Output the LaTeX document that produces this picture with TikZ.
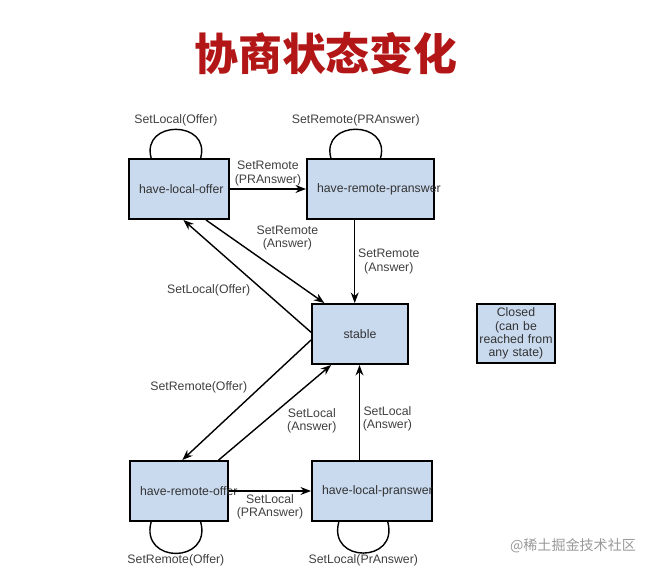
\documentclass[tikz,border=0pt]{standalone}
\usepackage{fontspec}
\setmainfont{Liberation Sans}
\newfontfamily\cjk{Noto Sans CJK SC}
\usepackage{tikz}
\usetikzlibrary{arrows.meta}
\definecolor{boxblue}{RGB}{201,218,239}
\definecolor{titlered}{RGB}{178,22,22}

\begin{document}
\begin{tikzpicture}[->, >={Stealth[length=6pt, width=4.5pt]}, x=0.02cm, y=0.02cm, line width=0.8pt, font=\fontsize{7}{7.5}\selectfont]
\tikzstyle{box}=[draw=black, line width=1.1pt, fill=boxblue, text=black!80, minimum height=1.2cm, inner xsep=0.2cm, align=left]
\tikzstyle{lbl}=[text=black!75, align=center, inner sep=1.5pt]
\tikzstyle{loopup}=[-, out=105, in=75, looseness=2.05]
\tikzstyle{loopdown}=[-, out=255, in=285, looseness=2.25]
\useasboundingbox (0,0) rectangle (650,-570);
\node[font=\cjk\bfseries\fontsize{25}{30}\selectfont, text=titlered] (title) at (326,-54) {协商状态变化};
\node[box, text width=1.6cm]  (A)      at (179,-189)   {\mbox{have-local-offer}};
\node[box, text width=2.14cm] (B)      at (370.5,-189) {\mbox{have-remote-pranswer}};
\node[box, text width=1.52cm, align=center] (stable) at (360,-334) {stable};
\node[box, text width=1.56cm, inner xsep=0pt, inner ysep=1pt, minimum height=1.18cm, align=center] (closed) at (516,-333.5) {Closed\\(can be\\reached from\\any state)};
\node[box, text width=1.56cm] (C)      at (179,-491)   {\mbox{have-remote-offer}};
\node[box, text width=2.0cm]  (D)      at (372,-491)   {\mbox{have-local-pranswer}};
\node[font=\cjk\fontsize{8}{10}\selectfont, text=black!40] (mark) at (573,-546) {@稀土掘金技术社区};
\path
(A.132)      edge[loopup]   node[lbl, above]{SetLocal(Offer)}                 (A.55)
(A.east)     edge           node[lbl, above]{SetRemote\\(PRAnswer)}           (A.east -| B.west)
(A.311)      edge           node[lbl, pos=0.4, above right]{SetRemote\\(Answer)} (stable.139)
(B.142)      edge[loopup]   node[lbl, above]{SetRemote(PRAnswer)}             (B.72)
(B.243)      edge           node[lbl, right]{SetRemote\\(Answer)}             (B.243 |- stable.north)
(stable.178) edge           node[lbl, pos=0.45, below left]{SetLocal(Offer)}  (A.278)
(stable.187) edge           node[lbl, pos=0.47, above left]{SetRemote(Offer)} (C.84)
(C.38)       edge           node[lbl, pos=0.58, below right]{SetLocal\\(Answer)} (stable.227)
(C.east)     edge           node[lbl, below]{SetLocal\\(PRAnswer)}            (D.west)
(C.228)      edge[loopdown] node[lbl, below, inner sep=0.3pt]{SetRemote(Offer)}   (C.305)
(D.112)      edge           node[lbl, pos=0.43, right]{SetLocal\\(Answer)}    (D.112 |- stable.south)
(D.223)      edge[loopdown] node[lbl, below, inner sep=0.3pt]{SetLocal(PrAnswer)} (D.297);
\end{tikzpicture}
\end{document}
